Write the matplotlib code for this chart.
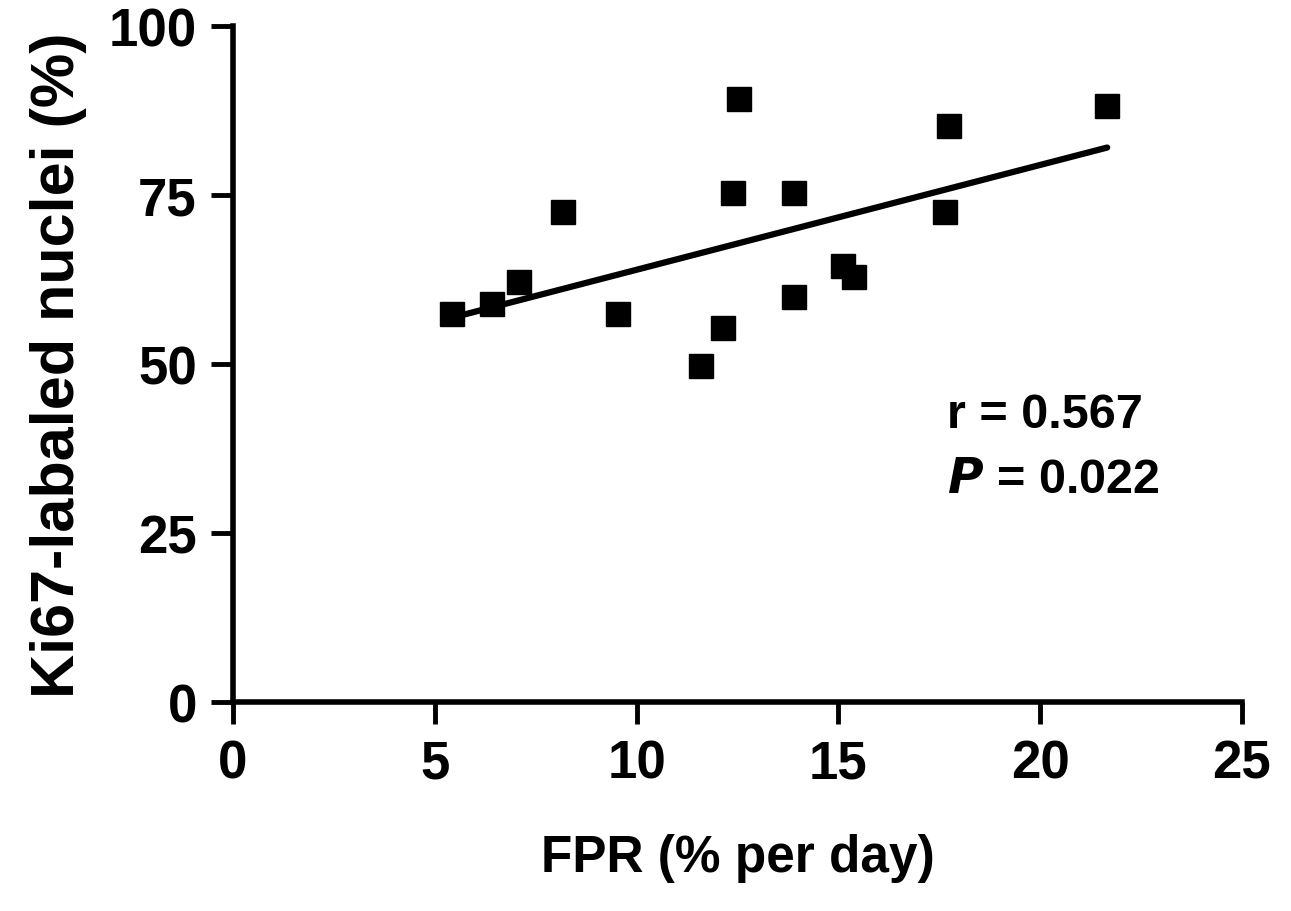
import numpy as np
import matplotlib
matplotlib.use("Agg")
import matplotlib.pyplot as plt

plt.rcParams['font.family'] = ['Liberation Sans', 'DejaVu Sans']
plt.rcParams['font.weight'] = 'bold'

# FPR (% per day) vs Ki67-labeled nuclei (%)
fpr = [5.43, 6.42, 7.08, 8.18, 9.54, 11.6, 12.14, 12.39, 12.54,
       13.9, 13.9, 15.11, 15.39, 17.64, 17.74, 21.66]
ki67 = [57.5, 58.9, 62.1, 72.6, 57.5, 49.7, 55.3, 75.4, 89.2,
        75.3, 59.9, 64.5, 62.9, 72.6, 85.2, 88.2]

x_ticks = [0, 5, 10, 15, 20, 25]
y_ticks = [0, 25, 50, 75, 100]

fig = plt.figure(figsize=(12.91, 9.12), dpi=100)
ax = fig.add_axes([0.1805, 0.229, 0.7815, 0.741])

# regression line
slope, icept = np.polyfit(fpr, ki67, 1)
xl = np.array([min(fpr), max(fpr)])
ax.plot(xl, slope * xl + icept, color='black', lw=4.5, solid_capstyle='round', zorder=2)

ax.plot(fpr, ki67, 's', color='black', markersize=17, clip_on=False, zorder=3)

ax.set_xlim(0, 25)
ax.set_ylim(0, 100)
ax.set_xticks(x_ticks)
ax.set_yticks(y_ticks)

for s in ['top', 'right']:
    ax.spines[s].set_visible(False)
for s in ['left', 'bottom']:
    ax.spines[s].set_linewidth(4)
ax.tick_params(direction='out', length=16, width=3.5, labelsize=38, pad=10)

ax.set_xlabel('FPR (% per day)', fontsize=37, fontweight='bold', labelpad=32)
ax.set_ylabel('Ki67-labaled nuclei (%)', fontsize=44, fontweight='bold', labelpad=16)

ax.text(17.7, 42.6, 'r = 0.567', fontsize=35, fontweight='bold', va='center', ha='left')
ax.text(17.7, 33.0, r'$\mathbf{\mathit{P}}$ = 0.022', fontsize=35, fontweight='bold',
        va='center', ha='left')

fig.savefig('out.png', dpi=100)
